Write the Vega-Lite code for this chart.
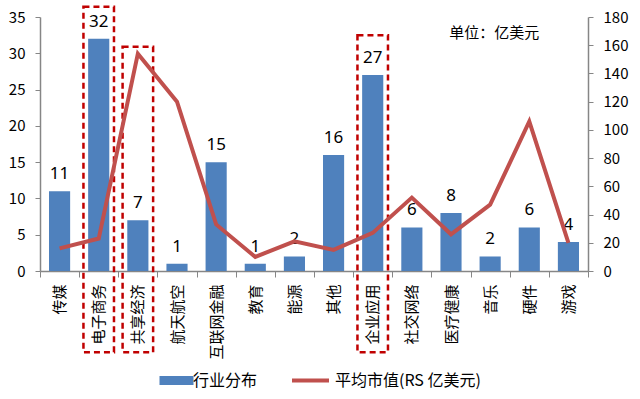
{
  "$schema": "https://vega.github.io/schema/vega-lite/v6.json",
  "width": 548,
  "height": 254,
  "autosize": {"type": "none"},
  "padding": {"left": 40, "top": 17, "right": 52, "bottom": 128},
  "background": "white",
  "config": {
    "view": {"stroke": null},
    "font": "Noto Sans CJK SC",
    "axis": {"grid": false, "domainColor": "#868686", "tickColor": "#868686", "labelColor": "#000000", "labelFontSize": 15, "labelFont": "Noto Sans CJK SC", "domainWidth": 1.5, "tickSize": 5, "title": null, "labelOverlap": false, "labelFlush": false}
  },
  "datasets": {
    "main": [
      {"industry": "传媒", "count": 11, "value": 16},
      {"industry": "电子商务", "count": 32, "value": 23},
      {"industry": "共享经济", "count": 7, "value": 154},
      {"industry": "航天航空", "count": 1, "value": 120},
      {"industry": "互联网金融", "count": 15, "value": 33},
      {"industry": "教育", "count": 1, "value": 10},
      {"industry": "能源", "count": 2, "value": 21},
      {"industry": "其他", "count": 16, "value": 15},
      {"industry": "企业应用", "count": 27, "value": 27},
      {"industry": "社交网络", "count": 6, "value": 52},
      {"industry": "医疗健康", "count": 8, "value": 26},
      {"industry": "音乐", "count": 2, "value": 47},
      {"industry": "硬件", "count": 6, "value": 106},
      {"industry": "游戏", "count": 4, "value": 20}
    ],
    "boxes": [
      {"industry": "电子商务", "top": 36.4, "bottom": -11.2},
      {"industry": "共享经济", "top": 30.9, "bottom": -11.2},
      {"industry": "企业应用", "top": 32.5, "bottom": -11.2}
    ],
    "note": [
      {"industry": "音乐", "y": 32.8, "label": "单位：亿美元"}
    ]
  },
  "encoding": {
    "x": {
      "field": "industry", "type": "nominal", "sort": null,
      "scale": {"paddingInner": 0, "paddingOuter": 0},
      "axis": {"labelAngle": -90, "tickBand": "extent", "labelPadding": 7, "tickSize": 6, "labelFontSize": 15}
    }
  },
  "layer": [
    {
      "layer": [
        {
          "data": {"name": "main"},
          "mark": {"type": "bar", "width": {"band": 0.54}},
          "encoding": {
            "y": {"field": "count", "type": "quantitative", "scale": {"domain": [0, 35]}, "axis": {"values": [0, 5, 10, 15, 20, 25, 30, 35], "tickCount": 8, "labelOverlap": false, "labelPadding": 10}},
            "fill": {"datum": "行业分布", "scale": {"range": ["#4F81BD"]}, "legend": {"orient": "none", "legendX": 124, "legendY": 351, "title": null, "symbolType": "M-1.5,-0.4L1.5,-0.4L1.5,0.4L-1.5,0.4Z", "symbolSize": 514, "labelFontSize": 16, "labelFont": "Noto Sans CJK SC", "labelColor": "#000000", "padding": 0, "labelOffset": 4}}
          }
        },
        {
          "data": {"name": "main"},
          "mark": {"type": "text", "baseline": "bottom", "dy": -8, "fontSize": 17, "color": "#000000", "font": "Noto Sans"},
          "encoding": {
            "y": {"field": "count", "type": "quantitative", "axis": {"values": [0, 5, 10, 15, 20, 25, 30, 35], "tickCount": 8, "labelOverlap": false, "labelPadding": 10}},
            "text": {"field": "count", "type": "quantitative"}
          }
        },
        {
          "data": {"name": "boxes"},
          "mark": {"type": "bar", "width": {"band": 0.78}, "fillOpacity": 0, "stroke": "#C00000", "strokeWidth": 2.5, "strokeDash": [6, 4]},
          "encoding": {
            "y": {"field": "top", "type": "quantitative", "axis": {"values": [0, 5, 10, 15, 20, 25, 30, 35], "tickCount": 8, "labelOverlap": false, "labelPadding": 10}},
            "y2": {"field": "bottom"}
          }
        },
        {
          "data": {"name": "note"},
          "mark": {"type": "text", "fontSize": 15, "color": "#000000", "font": "Noto Sans CJK SC", "dx": 4},
          "encoding": {
            "y": {"field": "y", "type": "quantitative", "axis": {"values": [0, 5, 10, 15, 20, 25, 30, 35], "tickCount": 8, "labelOverlap": false, "labelPadding": 10}},
            "text": {"field": "label"}
          }
        }
      ]
    },
    {
      "data": {"name": "main"},
      "mark": {"type": "line", "strokeWidth": 4},
      "encoding": {
        "y": {"field": "value", "type": "quantitative", "scale": {"domain": [0, 180]}, "axis": {"orient": "right", "values": [0, 20, 40, 60, 80, 100, 120, 140, 160, 180], "labelOverlap": false, "labelPadding": 10}},
        "stroke": {"datum": "平均市值(RS 亿美元)", "scale": {"range": ["#C0504D"]}, "legend": {"orient": "none", "legendX": 250, "legendY": 343, "title": null, "symbolSize": 1369, "symbolStrokeWidth": 4, "labelFontSize": 16, "labelFont": "Noto Sans CJK SC", "labelColor": "#000000", "padding": 0, "labelOffset": 4}}
      }
    }
  ],
  "resolve": {"scale": {"y": "independent"}}
}
